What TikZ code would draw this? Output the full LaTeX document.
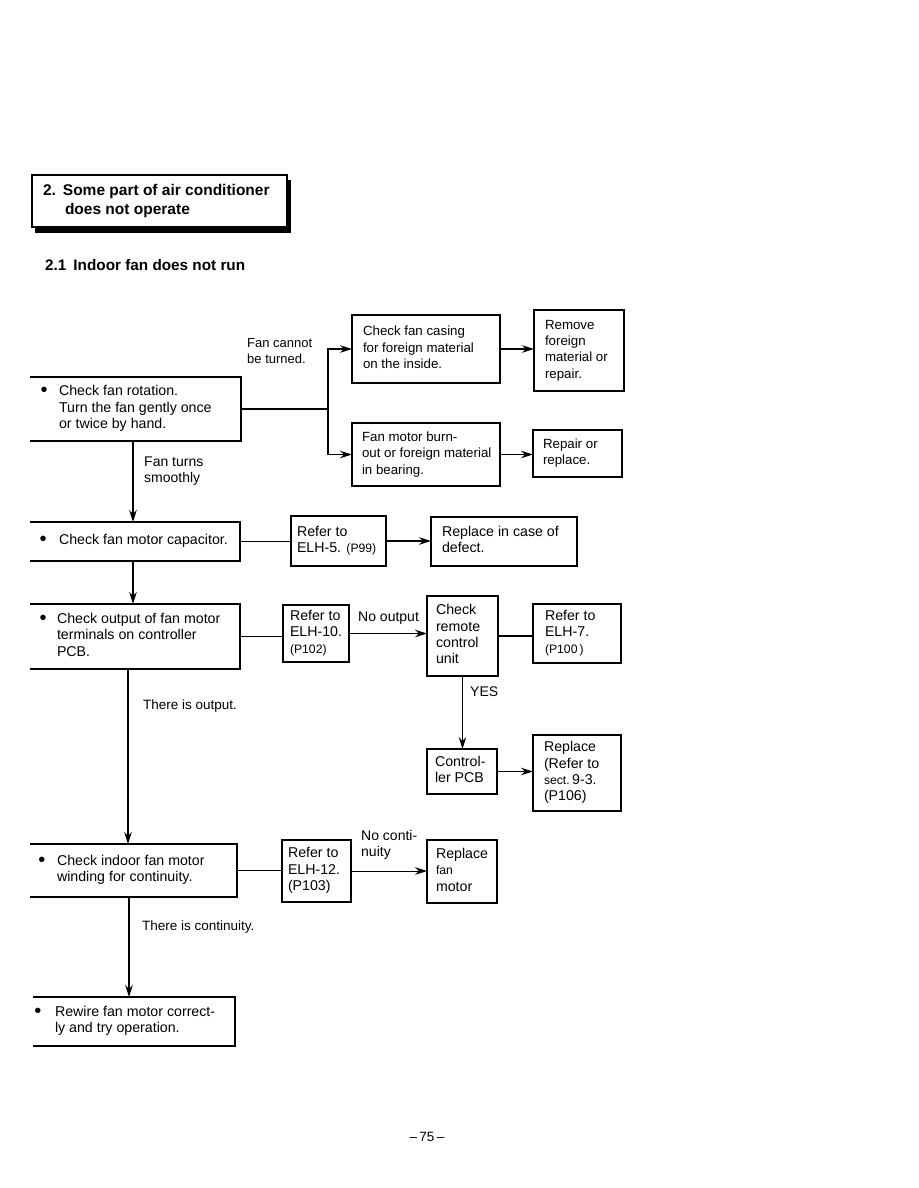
\documentclass[tikz,border=0pt]{standalone}
\usepackage{fontspec}
\setmainfont{Liberation Sans}
\usetikzlibrary{arrows.meta}
% #1 left pad, #2 box width, #3 lines
\newcommand\tl[3]{\makebox[#2pt][l]{\begin{tabular}{@{\hspace{#1pt}}l@{}}#3\end{tabular}}}
\newcommand\bl[1]{\makebox[#1pt][l]{\hspace{-1.5pt}\raisebox{-1pt}{\fontsize{20}{16}\selectfont\textbullet}}}
\newcommand\sm{\fontsize{12.2}{16.3}\selectfont}
\tikzset{
  base/.style={inner sep=0pt, outer sep=0pt, anchor=north west, align=left,
    font=\fontsize{14.2}{16.3}\selectfont},
  fbox/.style={base, draw, line width=1.2pt},
  sbox/.style={fbox, font=\fontsize{13.3}{16.3}\selectfont},
  obox/.style={base},
  lbl/.style={inner sep=0pt, anchor=west, align=left, font=\fontsize{14}{16.3}\selectfont},
  ln/.style={line width=1.2pt},
  arr/.style={line width=1.2pt, -{Stealth[length=12pt,width=7.5pt]}},
}
\begin{document}
\begin{tikzpicture}[x=1pt,y=-1pt]
\useasboundingbox (0,0) rectangle (918,1188);
\fill[white] (0,0) rectangle (918,1188);
% title
\fill[black] (35,180) rectangle (291,233);
\node[fbox, fill=white, minimum width=255pt, minimum height=52pt,
  font=\bfseries\fontsize{15.5}{19}\selectfont] (title) at (32,175)
  {\tl{11}{255}{2.\hspace{7pt}Some part of air conditioner\\\hspace*{22pt}does not operate}};
\node[lbl, font=\bfseries\fontsize{15.3}{17}\selectfont] (head) at (45,265) {2.1\hspace{7pt}Indoor fan does not run};

% left-open boxes
\node[obox, minimum width=211pt, minimum height=64pt] (A) at (30,377)
  {\tl{12}{211}{\bl{17}Check fan rotation.\\\hspace*{17pt}Turn the fan gently once\\\hspace*{17pt}or twice by hand.}};
\node[obox, minimum width=210pt, minimum height=39pt] (D) at (30,522)
  {\tl{11}{210}{\bl{18}Check fan motor capacitor.}};
\node[obox, minimum width=210pt, minimum height=65pt] (G) at (30,604)
  {\tl{11}{210}{\bl{16}Check output of fan motor\\\hspace*{16pt}terminals on controller\\\hspace*{16pt}PCB.}};
\node[obox, minimum width=207pt, minimum height=53pt] (M) at (30,844)
  {\tl{10}{207}{\bl{17}Check indoor fan motor\\\hspace*{17pt}winding for continuity.}};
\node[obox, minimum width=202pt, minimum height=49pt] (P) at (33,997)
  {\tl{3}{202}{\bl{19}Rewire fan motor correct-\\\hspace*{19pt}ly and try operation.}};
\foreach \b in {A,D,G,M,P}
  \draw[ln] (\b.north west) -- (\b.north east) -- (\b.south east) -- (\b.south west);

% framed boxes
\node[sbox, minimum width=148pt, minimum height=68pt] (B1) at (352,315)
  {\tl{11}{148}{Check fan casing\\for foreign material\\on the inside.}};
\node[sbox, minimum width=148pt, minimum height=63pt] (B2) at (352,423)
  {\tl{10}{148}{Fan motor burn-\\out or foreign material\\in bearing.}};
\node[sbox, minimum width=90pt, minimum height=81pt] (C1) at (534,310)
  {\tl{11}{90}{Remove\\foreign\\material or\\repair.}};
\node[sbox, minimum width=89pt, minimum height=47pt] (C2) at (533,430)
  {\tl{10}{89}{Repair or\\replace.}};
\node[fbox, minimum width=95pt, minimum height=50pt] (E1) at (291,516)
  {\tl{6}{95}{Refer to\\ELH-5. {\sm(P99)}}};
\node[fbox, minimum width=146pt, minimum height=49pt] (F1) at (431,517)
  {\tl{11}{146}{Replace in case of\\defect.}};
\node[fbox, minimum width=66pt, minimum height=57pt] (H1) at (283,605)
  {\tl{7}{66}{Refer to\\ELH-10.\\{\sm(P102)}}};
\node[fbox, minimum width=71pt, minimum height=80pt] (I1) at (427,596)
  {\tl{9}{71}{Check\\remote\\control\\unit}};
\node[fbox, minimum width=88pt, minimum height=59pt] (J1) at (533,604)
  {\tl{12}{88}{Refer to\\ELH-7.\\{\sm(P100\,)}}};
\node[fbox, minimum width=70pt, minimum height=45pt] (K1) at (427,749)
  {\tl{8}{70}{Control-\\ler PCB}};
\node[fbox, minimum width=88pt, minimum height=76pt] (L1) at (533,735)
  {\tl{11}{88}{Replace\\(Refer to\\{\sm sect.}\,9-3.\\(P106)}};
\node[fbox, minimum width=69pt, minimum height=62pt] (N1) at (282,840)
  {\tl{6}{69}{Refer to\\ELH-12.\\(P103)}};
\node[fbox, minimum width=70pt, minimum height=63pt] (O1) at (427,840)
  {\tl{9}{70}{Replace\\{\sm fan}\\motor}};

% connectors
\coordinate (sp) at (328,409);
\draw[ln] (A.east) -- (sp);
\draw[arr] (sp) |- (B1.west);
\draw[arr] (sp) |- (B2.west);
\draw[arr] (B1.east) -- (B1.east -| C1.west);
\draw[arr] (B2.east) -- (B2.east -| C2.west);
\draw[arr] ([xshift=103pt]A.south west) -- ([xshift=103pt]D.north west);
\draw[ln] (D.east) -- (D.east -| E1.west);
\draw[arr] (E1.east) -- (E1.east -| F1.west);
\draw[arr] ([xshift=103pt]D.south west) -- ([xshift=103pt]G.north west);
\draw[ln] (G.east) -- (G.east -| H1.west);
\draw[arr] (H1.east) -- (H1.east -| I1.west);
\draw[ln] (I1.east) -- (I1.east -| J1.west);
\draw[arr] (I1.south) -- (I1.south |- K1.north);
\draw[arr] (K1.east) -- (K1.east -| L1.west);
\draw[arr] ([xshift=98pt]G.south west) -- ([xshift=98pt]M.north west);
\draw[ln] (M.east) -- (M.east -| N1.west);
\draw[arr, line width=0.9pt] (N1.east) -- (N1.east -| O1.west);
\draw[arr] ([xshift=99pt]M.south west) -- ([xshift=99pt]M.south west |- P.north);

% labels
\node[lbl, font=\fontsize{13}{16.3}\selectfont] (l1) at (247,351) {Fan cannot\\be turned.};
\node[lbl] (l2) at (144,471) {Fan turns\\smoothly};
\node[lbl] (l3) at (358,618) {No output};
\node[lbl] (l4) at (470,692) {YES};
\node[lbl, font=\fontsize{13.5}{15}\selectfont] (l5) at (143,706) {There is output.};
\node[lbl] (l6) at (361,845) {No conti-\\nuity};
\node[lbl, font=\fontsize{13.5}{15}\selectfont] (l7) at (142,927) {There is continuity.};
\node[inner sep=0pt, font=\fontsize{13.5}{16}\selectfont] (pg) at (427,1137) {–\,75\,–};
\end{tikzpicture}
\end{document}
